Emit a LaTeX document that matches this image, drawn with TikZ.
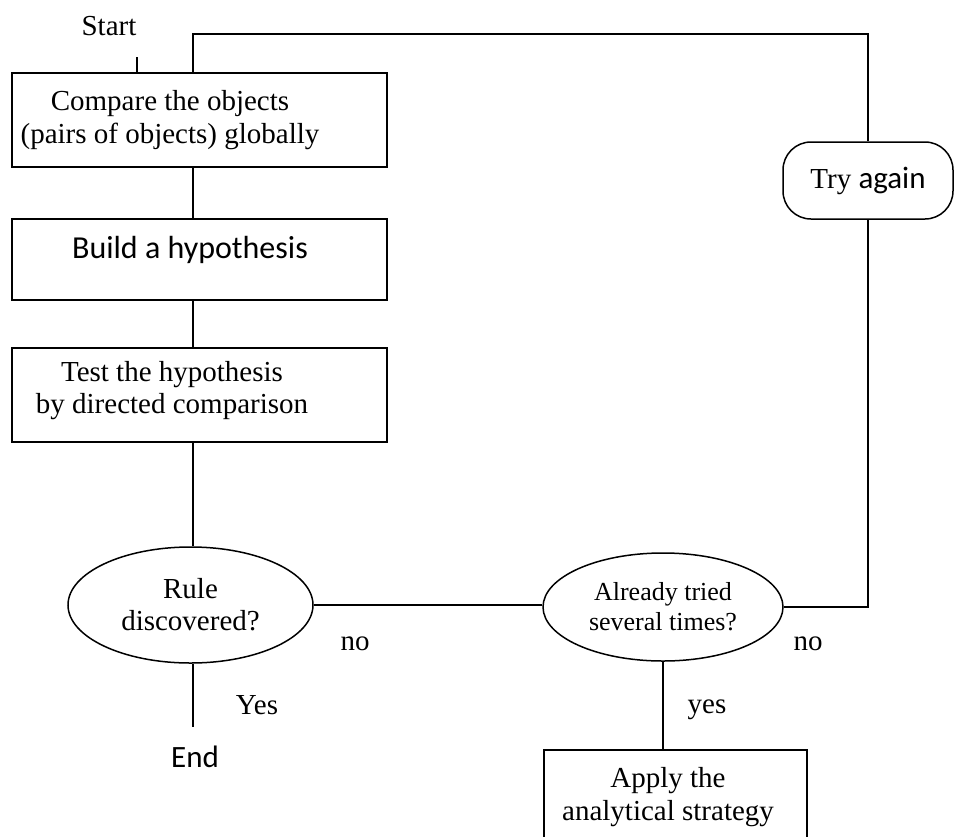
\documentclass[tikz,border=0pt]{standalone}
\usepackage{fontspec}
\setmainfont{Liberation Serif}
\newfontfamily\calibri{Carlito}
\usetikzlibrary{shapes.geometric}

\tikzset{
  box/.style={draw, line width=1.5pt, inner sep=0pt},
  decision/.style={draw, ellipse, line width=1.5pt, inner sep=0pt, align=center},
  txt/.style={align=center, inner sep=0pt, font=\fontsize{29}{33}\selectfont},
  flow/.style={line width=1.5pt},
}

\begin{document}
\begin{tikzpicture}[x=1pt,y=-1pt]
\clip (0,0) rectangle (956,836);

% left column
\node[box, minimum width=375pt, minimum height=94pt] (cmp) at (199.5,120) {};
\node[txt] (cmptxt) at (170,120) {Compare the objects\\(pairs of objects) globally};
\node[box, minimum width=375pt, minimum height=81pt] (hyp) at (199.5,259.5) {};
\node[txt, anchor=base, font=\calibri\fontsize{32}{36}\selectfont] (hyptxt) at (190,258) {Build a hypothesis};
\node[box, minimum width=375pt, minimum height=94pt] (test) at (199.5,395) {};
\node[txt, font=\fontsize{29}{32}\selectfont] (testtxt) at (172,391) {Test the hypothesis\\by directed comparison};
\node[decision, minimum width=245pt, minimum height=116pt, font=\fontsize{29}{32}\selectfont] (rule) at (190.5,605) {Rule\\discovered?};

% right side
\node[decision, minimum width=240pt, minimum height=108pt, font=\fontsize{26}{30}\selectfont] (tried) at (663,607) {Already tried\\several times?};
\node[box, rounded corners=28pt, minimum width=170pt, minimum height=77pt, font=\fontsize{29}{33}\selectfont] (again) at (868,180.5) {Try {\calibri\fontsize{31}{36}\selectfont again}};
\node[box, minimum width=263pt, minimum height=120pt] (apply) at (675.5,810) {};
\node[txt] (applytxt) at (668,797) {Apply the\\analytical strategy};

% free labels
\node[txt, anchor=base] (start) at (109,35) {Start};
\node[txt, anchor=base, font=\calibri\fontsize{31}{36}\selectfont] (done) at (195,767) {End};
\node[txt, anchor=base] (yes1) at (257,714) {Yes};
\node[txt, anchor=base] (no1) at (355,650) {no};
\node[txt, anchor=base] (yes2) at (707,713) {yes};
\node[txt, anchor=base] (no2) at (808,650) {no};

\coordinate (spine) at (193,0);
\coordinate (st) at (137,57);
\coordinate (loop) at (193,34);
\coordinate (endtop) at (193,727);

% connectors
\draw[flow] (st) -- (st |- cmp.north);
\draw[flow] (cmp.north -| loop) -- (loop) -| (again.north);
\draw[flow] (cmp.south -| spine) -- (hyp.north -| spine);
\draw[flow] (hyp.south -| spine) -- (test.north -| spine);
\draw[flow] (test.south -| spine) -- (rule.north -| spine);
\draw[flow] (rule.south -| spine) -- (endtop);
\draw[flow] (rule.east) -- (rule.east -| tried.west);
\draw[flow] (again.south) |- (tried.east);
\draw[flow] (tried.south) -- (tried.south |- apply.north);
\end{tikzpicture}
\end{document}
